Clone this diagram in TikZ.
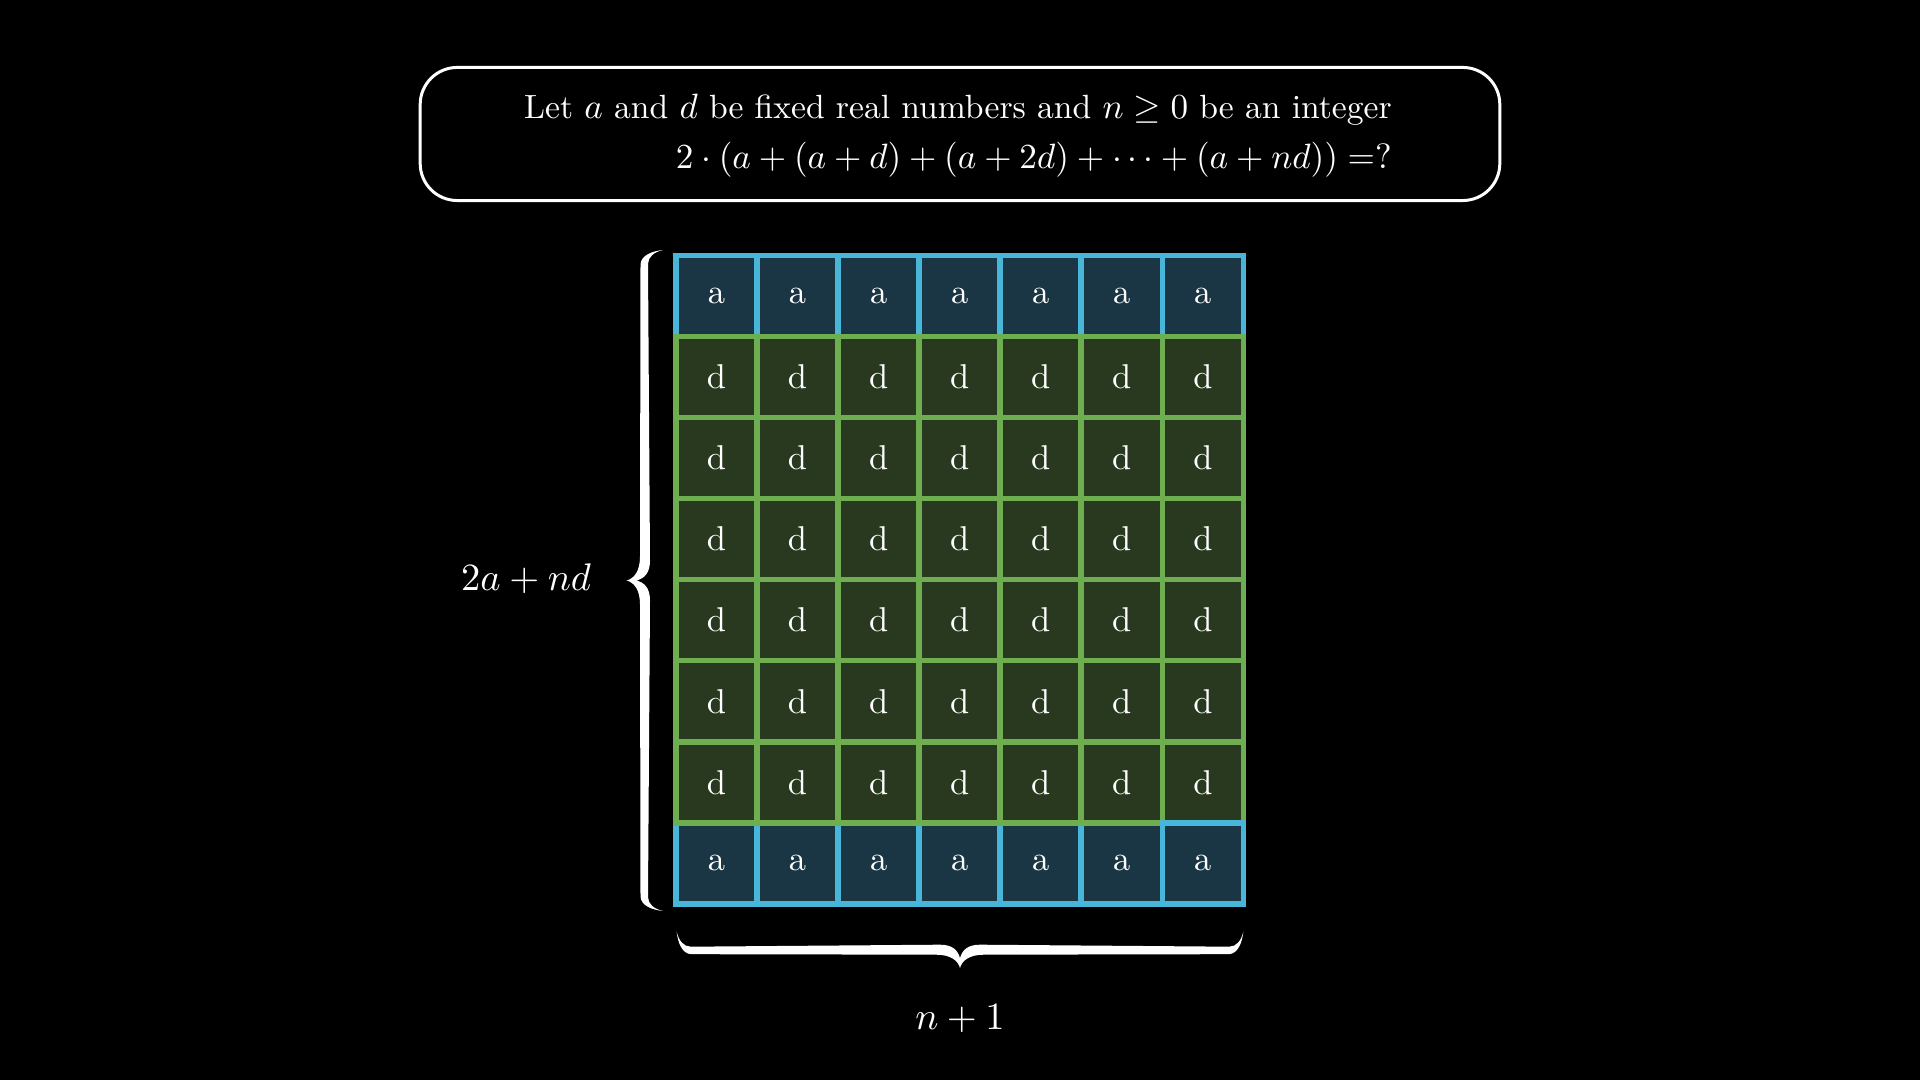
\documentclass[tikz,border=0pt]{standalone}
\definecolor{bfill}{RGB}{26,54,68}
\definecolor{bline}{RGB}{72,182,216}
\definecolor{gfill}{RGB}{40,57,31}
\definecolor{gline}{RGB}{110,174,80}
\tikzset{
  cellbase/.style={minimum size=0.8105cm, inner sep=0pt, line width=1.56pt, text=white, font=\fontsize{9.8}{12}\selectfont},
  acell/.style={cellbase, draw=bline, fill=bfill},
  dcell/.style={cellbase, draw=gline, fill=gfill},
  lbl/.style={text=white, font=\fontsize{10.9}{13}\selectfont},
  toptext/.style={text=white, font=\fontsize{9.56}{12}\selectfont, inner sep=0pt},
  pics/mbrace/.style={code={
    \fill[white] ({-#1},0)
      .. controls ({-#1+1},10) and ({-#1+5},22.5) .. ({-#1+15},22.5)
      -- (-24,23)
      .. controls (-9,23) and (-2,29) .. (0,36.3)
      .. controls (2,29) and (9,23) .. (24,23)
      -- ({#1-15},22.5)
      .. controls ({#1-5},22.5) and ({#1-1},10) .. ({#1},0)
      .. controls ({#1-2},9) and ({#1-7},15) .. ({#1-14},15)
      -- (20,13)
      .. controls (7,13) and (2,19) .. (0,26.5)
      .. controls (-2,19) and (-7,13) .. (-20,13)
      -- ({-#1+14},15)
      .. controls ({-#1+7},15) and ({-#1+2},9) .. cycle;
  }},
}
\begin{document}
\begin{tikzpicture}[x=0.01cm, y=-0.01cm]
\fill[black] (0,0) rectangle (1920,1080);
\useasboundingbox (0,0) rectangle (1920,1080);
% top box
\node[draw=white, line width=0.85pt, rounded corners=0.37cm, minimum width=10.79cm, minimum height=1.33cm] (box) at (960,134) {};
\node[toptext, anchor=base east] (l1) at (1392.5,119) {Let $a$ and $d$ be fixed real numbers and $n\geq 0$ be an integer};
\node[toptext, anchor=base east] (l2) at (1392.5,169) {$2\cdot(a+(a+d)+(a+2d)+\cdots+(a+nd))=?$};
% grid
\foreach \c in {1,...,7} {
  \node[acell] (c-1-\c) at ({676+81.05*(\c-0.5)},{255.5+81.05*0.5}) {a};
}
\foreach \c in {1,...,6} {
  \node[acell] (c-8-\c) at ({676+81.05*(\c-0.5)},{255.5+81.05*7.5}) {a};
}
\foreach \r in {2,...,7} {
  \foreach \c in {1,...,7} {
    \node[dcell] (c-\r-\c) at ({676+81.05*(\c-0.5)},{255.5+81.05*(\r-0.5)}) {d};
  }
}
\node[acell] (c-8-7) at ({676+81.05*6.5},{255.5+81.05*7.5}) {a};
% braces
\pic[rotate=-90] (lb) at (663,580.5) {mbrace=330.5};
\node[lbl] (hl) at (526,579) {$2a+nd$};
\pic (bb) at (960,931.7) {mbrace=283.3};
\node[lbl] (wl) at (960,1018.5) {$n+1$};
\end{tikzpicture}
\end{document}
